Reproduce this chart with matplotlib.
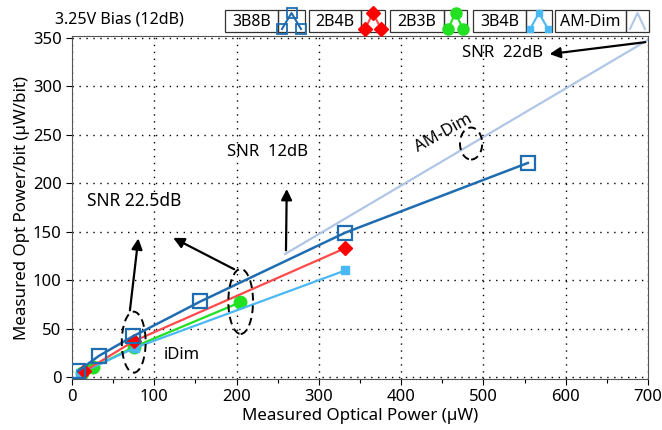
import matplotlib

matplotlib.use("Agg")
import matplotlib.pyplot as plt
from matplotlib.lines import Line2D
from matplotlib.patches import Ellipse, Rectangle

# measured optical power (uW) vs optical power per bit (uW/bit)
x_3b8b = [7, 33, 74, 156, 332, 554]
y_3b8b = [6, 22, 42, 78, 149, 221]
x_2b4b = [15, 75, 332]
y_2b4b = [6, 37, 133]
x_2b3b = [12, 26, 75, 204]
y_2b3b = [4, 10, 31, 77]
x_3b4b = [10, 76, 332]
y_3b4b = [4, 30, 110]
x_amdim = [259, 700]
y_amdim = [127, 348]

series_names = ["3B8B", "2B4B", "2B3B", "3B4B", "AM-Dim"]
colours = ["#1f6db0", "#ff4a4a", "#22e022", "#4ab8f2", "#b0c6e6"]
markers = ["s", "D", "o", "s", None]

plt.rcParams["font.family"] = ["Noto Sans", "DejaVu Sans"]
plt.rcParams["font.size"] = 12

W, H = 662, 430
fig = plt.figure(figsize=(W / 100, H / 100), dpi=100)
ax = fig.add_axes([72 / W, 1 - 379 / H, (648 - 72) / W, (379 - 36) / H])


def px(x, y):
    return (x / W, 1 - y / H)


ax.plot(x_amdim, y_amdim, color=colours[4], lw=1.6, zorder=2)
ax.plot(x_3b4b, y_3b4b, color=colours[3], lw=1.6, marker="s", ms=6,
        markerfacecolor=colours[3], markeredgecolor=colours[3], zorder=3)
ax.plot(x_2b3b, y_2b3b, color=colours[2], lw=1.6, marker="o", ms=9,
        markerfacecolor=colours[2], markeredgecolor=colours[2], zorder=2.5)
ax.plot(x_2b4b, y_2b4b, color=colours[1], lw=1.6, marker="D", ms=7,
        markerfacecolor="red", markeredgecolor="red", zorder=4)
ax.plot(x_3b8b, y_3b8b, color=colours[0], lw=1.8, marker="s", ms=10,
        markerfacecolor="none", markeredgecolor=colours[0], markeredgewidth=1.6, zorder=5)

ax.set_xlim(0, 700)
ax.set_ylim(-2, 352)
ax.set_xticks(range(0, 701, 100))
ax.set_xticks(range(50, 700, 100), minor=True)
ax.set_yticks(range(0, 351, 50))
ax.tick_params(direction="out", length=4, width=0.8, labelsize=12)
ax.tick_params(which="minor", direction="out", length=3, width=0.8)
ax.grid(True, linestyle=(0, (1, 4)), color="black", lw=1.0)
for s in ax.spines.values():
    s.set_color("#555555")
ax.set_xlabel("Measured Optical Power (µW)", fontsize=12.2, labelpad=2)
ax.set_ylabel("Measured Opt Power/bit (µW/bit)", fontsize=12.2, labelpad=2)

# dashed ellipses
for cx, cy, w, h in [(75, 36, 29, 63), (205, 78, 30, 67), (485, 241, 27, 33)]:
    ax.add_patch(Ellipse((cx, cy), w, h, fill=False, ls=(0, (4, 2.5)),
                         lw=1.4, color="black", zorder=6))

# annotations
arrow = dict(arrowstyle="-|>", mutation_scale=16, lw=1.6, color="black")
ax.annotate("", xy=(577, 333), xytext=(700, 346), arrowprops=arrow)
ax.annotate("", xy=(261, 197), xytext=(260, 128), arrowprops=arrow)
ax.annotate("", xy=(81, 146), xytext=(70, 66), arrowprops=arrow)
ax.annotate("", xy=(120, 145), xytext=(200, 110), arrowprops=arrow)
ax.text(572, 334, "SNR  22dB", ha="right", va="center", fontsize=12)
ax.text(237, 232, "SNR  12dB", ha="center", va="center", fontsize=12)
ax.text(75, 182, "SNR 22.5dB", ha="center", va="center", fontsize=12.5)
ax.text(451, 252, "AM-Dim", ha="center", va="center", fontsize=12, rotation=29)
ax.text(133, 23, "iDim", ha="center", va="center", fontsize=12)

# custom legend strip above the axes
fig.text(*px(55, 19), "3.25V Bias (12dB)", ha="left", va="center", fontsize=11.5)
boxes = [(225, 278, 305), (309, 361, 385), (390, 444, 467), (473, 526, 552), (555, 626, 649)]
top, bot = 10, 32
for i, (x0, x1, x2) in enumerate(boxes):
    for a, b in [(x0, x1), (x1, x2)]:
        fig.add_artist(Rectangle(px(a, bot), (b - a) / W, (bot - top) / H,
                                 transform=fig.transFigure, fill=False,
                                 ec="#333333", lw=0.9))
    fig.text(*px((x0 + x1) / 2, 22), series_names[i], ha="center", va="center", fontsize=11.5)
    gx = [x1 + 4, (x1 + x2) / 2, x2 - 4]
    gy = [bot - 3, top + 3, bot - 3]
    pts = [px(a, b) for a, b in zip(gx, gy)]
    m = markers[i]
    if m == "s" and i == 0:
        kw = dict(marker="s", ms=7, mfc="none", mec=colours[0], mew=1.3)
    elif m == "s":
        kw = dict(marker="s", ms=5, mfc=colours[3], mec=colours[3])
    elif m == "D":
        kw = dict(marker="D", ms=7, mfc="red", mec="red")
    elif m == "o":
        kw = dict(marker="o", ms=8, mfc=colours[2], mec=colours[2])
    else:
        kw = dict(marker=None)
    fig.add_artist(Line2D([p[0] for p in pts], [p[1] for p in pts],
                          transform=fig.transFigure, color=colours[i], lw=1.5, **kw))

fig.savefig("out.png", dpi=100)
